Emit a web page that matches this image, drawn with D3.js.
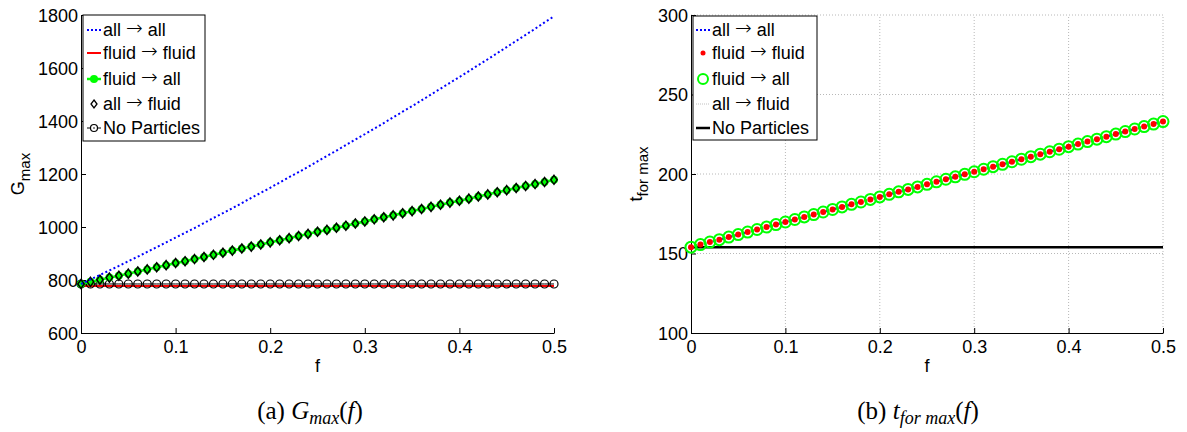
<!DOCTYPE html>
<html><head><meta charset="utf-8">
<script src="https://cdn.jsdelivr.net/npm/d3@7"></script>
<style>
body{margin:0;background:#fff;}
svg{display:block;}
</style></head>
<body>
<svg id="c" width="1187" height="432" font-family="Liberation Sans, Arial, sans-serif"></svg>
<script>
// ---------- DATA ----------
const fValues = [0,0.01,0.02,0.03,0.04,0.05,0.06,0.07,0.08,0.09,0.10,0.11,0.12,0.13,0.14,0.15,0.16,0.17,0.18,0.19,0.20,0.21,0.22,0.23,0.24,0.25,0.26,0.27,0.28,0.29,0.30,0.31,0.32,0.33,0.34,0.35,0.36,0.37,0.38,0.39,0.40,0.41,0.42,0.43,0.44,0.45,0.46,0.47,0.48,0.49,0.50];
const seriesNames = ["all \u2192 all","fluid \u2192 fluid","fluid \u2192 all","all \u2192 fluid","No Particles"];

// (a) G_max
const gAllAll = [785,802,819,836,853,871,888,906,924,942,960,978,996,1015,1034,1052,1071,1090,1110,1129,1148,1168,1188,1207,1227,1248,1268,1288,1309,1330,1350,1371,1392,1414,1435,1456,1478,1500,1522,1544,1566,1588,1611,1633,1656,1679,1702,1725,1748,1772,1795];
const gFluidFluid = [777,777,777,777,777,777,777,777,777,777,777,777,777,777,777,777,777,777,777,777,777,777,777,777,777,777,777,777,777,777,777,777,777,777,777,777,777,777,777,777,777,777,777,777,777,777,777,777,777,777,777];
const gFluidAll = [785,793,801,809,816,824,832,840,848,856,864,871,879,887,895,903,911,919,926,934,942,950,958,966,974,982,989,997,1005,1013,1021,1029,1037,1044,1052,1060,1068,1076,1084,1092,1099,1107,1115,1123,1131,1139,1147,1155,1162,1170,1178];
const gAllFluid = [785,793,801,809,816,824,832,840,848,856,864,871,879,887,895,903,911,919,926,934,942,950,958,966,974,982,989,997,1005,1013,1021,1029,1037,1044,1052,1060,1068,1076,1084,1092,1099,1107,1115,1123,1131,1139,1147,1155,1162,1170,1178];
const gNoParticles = [785,785,785,785,785,785,785,785,785,785,785,785,785,785,785,785,785,785,785,785,785,785,785,785,785,785,785,785,785,785,785,785,785,785,785,785,785,785,785,785,785,785,785,785,785,785,785,785,785,785,785];

// (b) t_for max
const tAllAll = [154.0,155.6,157.2,158.7,160.3,161.9,163.5,165.1,166.6,168.2,169.8,171.4,173.0,174.5,176.1,177.7,179.3,180.9,182.4,184.0,185.6,187.2,188.8,190.3,191.9,193.5,195.1,196.7,198.2,199.8,201.4,203.0,204.6,206.1,207.7,209.3,210.9,212.5,214.0,215.6,217.2,218.8,220.4,221.9,223.5,225.1,226.7,228.3,229.8,231.4,233.0];
const tFluidFluid = tAllAll.slice();
const tFluidAll = tAllAll.slice();
const tAllFluid = tAllAll.slice();
const tNoParticles = [154,154,154,154,154,154,154,154,154,154,154,154,154,154,154,154,154,154,154,154,154,154,154,154,154,154,154,154,154,154,154,154,154,154,154,154,154,154,154,154,154,154,154,154,154,154,154,154,154,154,154];

const xTicks = [0,0.1,0.2,0.3,0.4,0.5];
const gTicks = [600,800,1000,1200,1400,1600,1800];
const tTicks = [100,150,200,250,300];

// ---------- DRAW ----------
const svg = d3.select("#c");
const FS = 18;

function zip(ys){ return fValues.map((f,i)=>[f,ys[i]]); }

function legendText(sel, x, y, name){
  const t = sel.append("text").attr("x",x).attr("y",y).attr("dy","0.36em").attr("font-size",FS).attr("fill","#000");
  const parts = name.split("\u2192");
  if(parts.length===2){
    t.append("tspan").text(parts[0]);
    t.append("tspan").attr("font-family","DejaVu Sans ExtraLight, DejaVu Sans, sans-serif").attr("font-weight",200).attr("font-size",20).attr("dy","-0.05em").text("\u2192");
    t.append("tspan").attr("dy","0.05em").text(parts[1]);
  } else t.text(name);
}

function panel(opt){
  const g = svg.append("g");
  const x = d3.scaleLinear().domain([0,0.5]).range([opt.x0,opt.x1]);
  const y = d3.scaleLinear().domain(opt.yDomain).range([opt.yb,opt.yt]);
  if(opt.grid){
    const gg = g.append("g").attr("stroke","#b8b8b8").attr("stroke-width",1).attr("stroke-dasharray","1,2");
    xTicks.filter(t=>t>0).forEach(t=>gg.append("line").attr("x1",x(t)).attr("x2",x(t)).attr("y1",opt.yb).attr("y2",opt.yt));
    opt.yTicks.filter(t=>t>opt.yDomain[0]).forEach(t=>gg.append("line").attr("x1",opt.x0).attr("x2",opt.x1).attr("y1",y(t)).attr("y2",y(t)));
  }
  const ax = g.append("g").attr("transform",`translate(0,${opt.yb})`)
    .call(d3.axisBottom(x).tickValues(xTicks).tickFormat(d=>d===0?"0":d3.format(".1f")(d)).tickSizeInner(-5).tickSizeOuter(0).tickPadding(6));
  const ay = g.append("g").attr("transform",`translate(${opt.x0},0)`)
    .call(d3.axisLeft(y).tickValues(opt.yTicks).tickFormat(d3.format("d")).tickSizeInner(-5).tickSizeOuter(0).tickPadding(3));
  [ax,ay].forEach(a=>{
    a.attr("font-family",null).attr("font-size",null);
    a.selectAll("text").attr("font-size",FS).attr("fill","#000");
    a.selectAll("line,path").attr("stroke","#000").attr("stroke-width",1);
  });
  ay.selectAll("text").attr("dy","0.36em");
  ax.selectAll("text").attr("dy","0.75em");
  g.append("text").attr("x",(opt.x0+opt.x1)/2).attr("y",372).attr("text-anchor","middle").attr("font-size",FS).text("f");
  const yl = g.append("text").attr("transform",`translate(${opt.ylx},${(opt.yb+opt.yt)/2}) rotate(-90)`).attr("text-anchor","middle").attr("font-size",FS);
  yl.append("tspan").text(opt.ylab);
  yl.append("tspan").attr("dy",6).attr("font-size",15).text(opt.ysub);
  return {g,x,y};
}

const line = (x,y)=>d3.line().x(d=>x(d[0])).y(d=>y(d[1]));

// ----- Panel (a)
const A = panel({x0:81,x1:554,yb:333,yt:15,yDomain:[600,1800],yTicks:gTicks,ylab:"G",ysub:"max",ylx:24,grid:false});
{
  const {g,x,y} = A, L = line(x,y);
  g.append("path").datum(zip(gFluidFluid)).attr("d",L).attr("fill","none").attr("stroke","#ff0000").attr("stroke-width",2);
  g.append("path").datum(zip(gNoParticles)).attr("d",L).attr("fill","none").attr("stroke","#000").attr("stroke-width",1);
  g.append("g").selectAll("circle").data(zip(gNoParticles)).join("circle").attr("cx",d=>x(d[0])).attr("cy",d=>y(d[1])).attr("r",4).attr("fill","none").attr("stroke","#000").attr("stroke-width",1.2);
  g.append("path").datum(zip(gFluidAll)).attr("d",L).attr("fill","none").attr("stroke","#00ff00").attr("stroke-width",2.5);
  g.append("g").selectAll("circle").data(zip(gFluidAll)).join("circle").attr("cx",d=>x(d[0])).attr("cy",d=>y(d[1])).attr("r",4).attr("fill","#00ff00");
  g.append("g").selectAll("path").data(zip(gAllFluid)).join("path").attr("d",d=>{const cx=x(d[0]),cy=y(d[1]);return `M${cx},${cy-4.5}L${cx+3.2},${cy}L${cx},${cy+4.5}L${cx-3.2},${cy}Z`;}).attr("fill","none").attr("stroke","#000").attr("stroke-width",1.5);
  g.append("path").datum(zip(gAllAll)).attr("d",L).attr("fill","none").attr("stroke","#0000ff").attr("stroke-width",2).attr("stroke-dasharray","2,2.5");
  const lg = g.append("g");
  lg.append("rect").attr("x",83).attr("y",15).attr("width",122).attr("height",126).attr("fill","#fff").attr("stroke","#000").attr("stroke-width",1);
  const rows=[30,53,79,104,128], sx0=87, sx1=101, tx=103;
  seriesNames.forEach((n,i)=>legendText(lg,tx,rows[i],n));
  lg.append("line").attr("x1",sx0).attr("x2",sx1).attr("y1",rows[0]).attr("y2",rows[0]).attr("stroke","#0000ff").attr("stroke-width",2).attr("stroke-dasharray","2,2");
  lg.append("line").attr("x1",sx0).attr("x2",sx1).attr("y1",rows[1]).attr("y2",rows[1]).attr("stroke","#ff0000").attr("stroke-width",2);
  lg.append("line").attr("x1",sx0).attr("x2",sx1).attr("y1",rows[2]).attr("y2",rows[2]).attr("stroke","#00ff00").attr("stroke-width",2.5);
  lg.append("circle").attr("cx",(sx0+sx1)/2).attr("cy",rows[2]).attr("r",4).attr("fill","#00ff00");
  {const cx=(sx0+sx1)/2,cy=rows[3];lg.append("path").attr("d",`M${cx},${cy-4}L${cx+3},${cy}L${cx},${cy+4}L${cx-3},${cy}Z`).attr("fill","none").attr("stroke","#000").attr("stroke-width",1.3);}
  lg.append("line").attr("x1",sx0).attr("x2",sx1).attr("y1",rows[4]).attr("y2",rows[4]).attr("stroke","#000").attr("stroke-width",1);
  lg.append("circle").attr("cx",(sx0+sx1)/2).attr("cy",rows[4]).attr("r",3.5).attr("fill","#fff").attr("stroke","#000").attr("stroke-width",1.2);
  lg.append("circle").attr("cx",(sx0+sx1)/2).attr("cy",rows[4]).attr("r",0.8).attr("fill","#000");
}

// ----- Panel (b)
const B = panel({x0:691,x1:1163,yb:333,yt:15,yDomain:[100,300],yTicks:tTicks,ylab:"t",ysub:"for max",ylx:642,grid:true});
{
  const {g,x,y} = B, L = line(x,y);
  g.append("path").datum(zip(tNoParticles)).attr("d",L).attr("fill","none").attr("stroke","#000").attr("stroke-width",2.5);
  g.append("path").datum(zip(tAllFluid)).attr("d",L).attr("fill","none").attr("stroke","#c8c8c8").attr("stroke-width",1).attr("stroke-dasharray","1,2");
  g.append("path").datum(zip(tAllAll)).attr("d",L).attr("fill","none").attr("stroke","#0000ff").attr("stroke-width",2).attr("stroke-dasharray","2,2.5");
  g.append("g").selectAll("circle").data(zip(tFluidAll)).join("circle").attr("cx",d=>x(d[0])).attr("cy",d=>y(d[1])).attr("r",5.5).attr("fill","none").attr("stroke","#00ff00").attr("stroke-width",2);
  g.append("g").selectAll("circle").data(zip(tFluidFluid)).join("circle").attr("cx",d=>x(d[0])).attr("cy",d=>y(d[1])).attr("r",3).attr("fill","#ff0000");
  const lg = g.append("g");
  lg.append("rect").attr("x",693).attr("y",16).attr("width",124).attr("height",124).attr("fill","#fff").attr("stroke","#000").attr("stroke-width",1);
  const rows=[30,53,79,104,128], sx0=696, sx1=710, tx=712;
  seriesNames.forEach((n,i)=>legendText(lg,tx,rows[i],n));
  lg.append("line").attr("x1",sx0).attr("x2",sx1).attr("y1",rows[0]).attr("y2",rows[0]).attr("stroke","#0000ff").attr("stroke-width",2).attr("stroke-dasharray","2,2");
  lg.append("circle").attr("cx",(sx0+sx1)/2).attr("cy",rows[1]).attr("r",2.5).attr("fill","#ff0000");
  lg.append("circle").attr("cx",(sx0+sx1)/2).attr("cy",rows[2]).attr("r",5).attr("fill","none").attr("stroke","#00ff00").attr("stroke-width",2);
  lg.append("line").attr("x1",sx0).attr("x2",sx1).attr("y1",rows[3]).attr("y2",rows[3]).attr("stroke","#c0c0c0").attr("stroke-width",1).attr("stroke-dasharray","1,1");
  lg.append("line").attr("x1",sx0).attr("x2",sx1).attr("y1",rows[4]).attr("y2",rows[4]).attr("stroke","#000").attr("stroke-width",2.5);
}

// ----- captions
function caption(cx, label, main, sub){
  const t = svg.append("text").attr("x",cx).attr("y",419).attr("text-anchor","middle").attr("font-family","Liberation Serif, Times New Roman, serif").attr("font-size",25);
  t.append("tspan").text(label+" ");
  t.append("tspan").attr("font-style","italic").text(main);
  t.append("tspan").attr("font-style","italic").attr("font-size",18).attr("dy",5).text(sub);
  t.append("tspan").attr("dy",-5).text("(");
  t.append("tspan").attr("font-style","italic").text("f");
  t.append("tspan").text(")");
}
caption(310,"(a)","G","max");
caption(918,"(b)","t","for max");
</script>
</body></html>
